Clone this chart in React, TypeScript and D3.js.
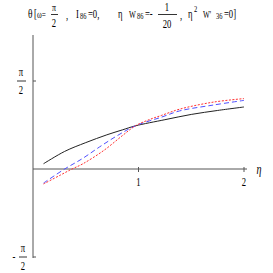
import React from 'react';
import * as d3 from 'd3';

// theta values in radians
const etaBlack = [0.1, 0.3, 0.5, 0.7, 0.85, 0.97, 1.25, 1.5, 1.75, 2.0];
const thetaBlack = [0.094, 0.314, 0.471, 0.61, 0.7, 0.77, 0.88, 0.974, 1.045, 1.107];

const etaBlue = [0.1, 0.3, 0.47, 0.63, 0.8, 0.97, 1.22, 1.39, 1.71, 2.0];
const thetaBlue = [-0.251, 0.0, 0.188, 0.393, 0.597, 0.77, 0.927, 1.037, 1.142, 1.225];

const etaRed = [0.1, 0.25, 0.37, 0.47, 0.67, 0.85, 0.97, 1.1, 1.22, 1.39, 1.71, 2.0];
const thetaRed = [-0.267, -0.118, 0.0, 0.09, 0.33, 0.6, 0.77, 0.88, 0.958, 1.068, 1.194, 1.257];

const xTicks = [1, 2];

const W = 273, H = 273;
const font = "'Liberation Serif', serif";

// condensed text, like the Mathematica output
const T = ({ x, y, s = 12, a = 'start', children, italic = false }: any) => (
  <text transform={`translate(${x},${y}) scale(0.72,1)`} fontSize={s} textAnchor={a}
    fontStyle={italic ? 'italic' : undefined}>{children}</text>
);

export default function App() {
  const x = d3.scaleLinear().domain([0, 2]).range([33, 244]);
  const y = d3.scaleLinear().domain([-Math.PI / 2, Math.PI / 2]).range([257, 81]);

  const line = d3.line<[number, number]>()
    .x(d => x(d[0]))
    .y(d => y(d[1]))
    .curve(d3.curveCatmullRom);

  const series = [
    { eta: etaBlack, theta: thetaBlack, color: '#222', dash: null },
    { eta: etaBlue, theta: thetaBlue, color: '#5050ff', dash: '5,3' },
    { eta: etaRed, theta: thetaRed, color: '#ff3030', dash: '2,1.5' },
  ];

  const y0 = y(0);
  const x0 = x(0);
  const yp = y(Math.PI / 2), ym = y(-Math.PI / 2);

  return (
    <svg width={W} height={H} style={{ position: 'absolute', left: 0, top: 0, background: '#fff' }}
      fontFamily={font}>
      {/* title */}
      <g fill="#000">
        <T x={28} y={18} s={13}>θ</T>
        <T x={34} y={18}>[</T>
        <T x={37} y={18} s={10}>ω=</T>
        <T x={54} y={11} s={11} a="middle">π</T>
        <line x1={51} x2={58} y1={14.5} y2={14.5} stroke="#000" strokeWidth={0.8} />
        <T x={54} y={27} s={12} a="middle">2</T>
        <T x={66} y={19}>,</T>
        <T x={76} y={18}>I</T>
        <T x={80} y={19} s={9}>86</T>
        <T x={88} y={18}>=0,</T>
        <T x={118} y={18} s={12}>η</T>
        <T x={129} y={18} s={10}>W</T>
        <T x={137} y={19} s={9}>86</T>
        <T x={145} y={18}>=-</T>
        <T x={167} y={11} s={12} a="middle">1</T>
        <line x1={158} x2={177} y1={14.5} y2={14.5} stroke="#000" strokeWidth={0.8} />
        <T x={167} y={28} s={12} a="middle">20</T>
        <T x={180} y={19}>,</T>
        <T x={188} y={18} s={12}>η</T>
        <T x={194} y={12} s={9}>2</T>
        <T x={203} y={18} s={10}>W'</T>
        <T x={216} y={19} s={9}>36</T>
        <T x={224} y={18}>=0]</T>
      </g>

      {/* axes */}
      <g stroke="#555" strokeWidth={1}>
        <line x1={x0} x2={x0} y1={35} y2={258} />
        <line x1={x0} x2={247} y1={y0} y2={y0} />
        {xTicks.map(t => (
          <line key={t} x1={x(t)} x2={x(t)} y1={y0 - 2} y2={y0 + 3} />
        ))}
        <line x1={x0} x2={x0 + 3} y1={yp} y2={yp} />
        <line x1={x0} x2={x0 + 3} y1={ym} y2={ym} />
      </g>
      <g fill="#000">
        {xTicks.map(t => (
          <T key={t} x={x(t)} y={y0 + 17} a="middle">{t}</T>
        ))}
        <T x={259} y={y0 + 5} s={14} a="middle" italic>η</T>
        {/* y tick labels */}
        <T x={21} y={yp - 5} s={12} a="middle">π</T>
        <line x1={17} x2={26} y1={yp} y2={yp} stroke="#000" strokeWidth={0.8} />
        <T x={21} y={yp + 13} s={12} a="middle">2</T>
        <T x={14} y={ym + 4} s={12} a="middle">-</T>
        <T x={23} y={ym - 5} s={12} a="middle">π</T>
        <line x1={19} x2={27} y1={ym} y2={ym} stroke="#000" strokeWidth={0.8} />
        <T x={23} y={ym + 13} s={12} a="middle">2</T>
      </g>

      {/* curves */}
      {series.map((s, i) => (
        <path key={i}
          d={line(s.eta.map((e, j) => [e, s.theta[j]] as [number, number])) || ''}
          fill="none" stroke={s.color} strokeWidth={1}
          strokeDasharray={s.dash || undefined} />
      ))}
    </svg>
  );
}
